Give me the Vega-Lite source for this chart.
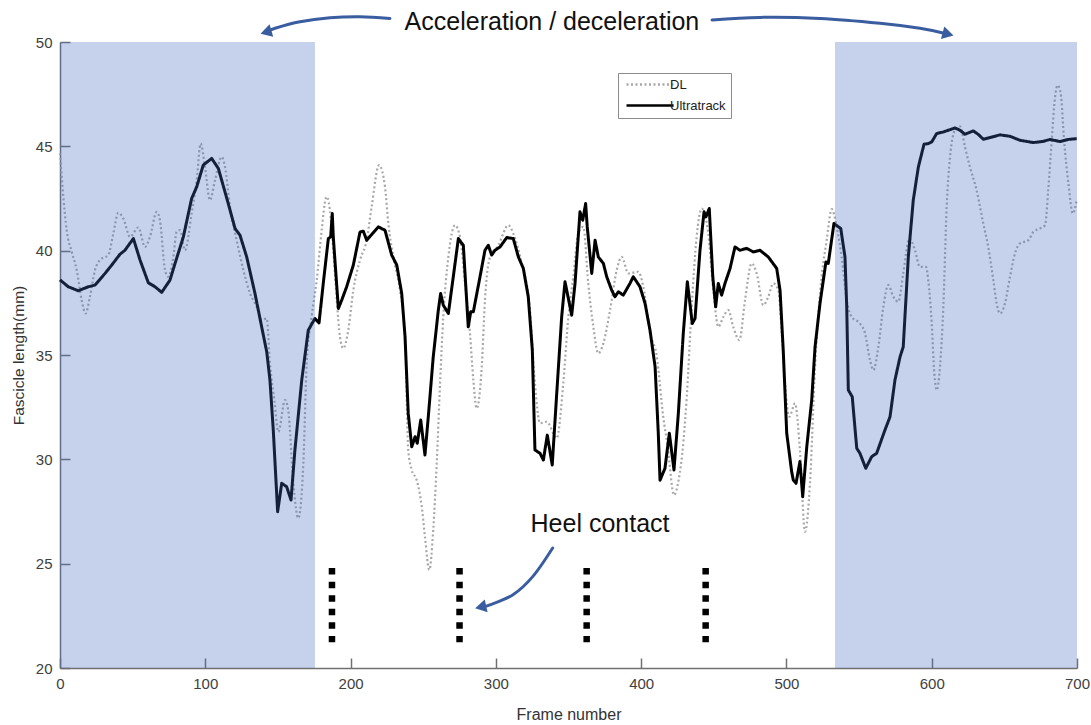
{
  "$schema": "https://vega.github.io/schema/vega-lite/v6.json",
  "width": 1017,
  "height": 626,
  "autosize": {"type": "none"},
  "padding": {"left": 60, "top": 42, "right": 14, "bottom": 57},
  "background": "white",
  "config": {
    "view": {"stroke": null},
    "font": "Liberation Sans",
    "axis": {
      "grid": false,
      "domainColor": "#707070",
      "domainWidth": 1.5,
      "tickColor": "#707070",
      "tickWidth": 1.5,
      "tickSize": -10,
      "labelPadding": 18,
      "labelFlush": false,
      "labelColor": "#404040",
      "labelFontSize": 15,
      "labelFont": "Liberation Sans",
      "titleFont": "Liberation Sans",
      "titleColor": "#333333",
      "titleFontWeight": "normal",
      "titleFontSize": 16
    }
  },
  "datasets": {
    "lines": [
      {"series": "Ultratrack", "frame": 0, "length": 38.6},
      {"series": "Ultratrack", "frame": 5.7, "length": 38.27},
      {"series": "Ultratrack", "frame": 12.6, "length": 38.08},
      {"series": "Ultratrack", "frame": 19.5, "length": 38.27},
      {"series": "Ultratrack", "frame": 24.1, "length": 38.35},
      {"series": "Ultratrack", "frame": 31.0, "length": 38.91},
      {"series": "Ultratrack", "frame": 35.6, "length": 39.31},
      {"series": "Ultratrack", "frame": 41.3, "length": 39.83},
      {"series": "Ultratrack", "frame": 44.7, "length": 40.02},
      {"series": "Ultratrack", "frame": 50.5, "length": 40.58},
      {"series": "Ultratrack", "frame": 55.1, "length": 39.55},
      {"series": "Ultratrack", "frame": 60.8, "length": 38.46},
      {"series": "Ultratrack", "frame": 65.4, "length": 38.27},
      {"series": "Ultratrack", "frame": 70.0, "length": 38.0},
      {"series": "Ultratrack", "frame": 75.7, "length": 38.59},
      {"series": "Ultratrack", "frame": 79.2, "length": 39.39},
      {"series": "Ultratrack", "frame": 84.9, "length": 40.66},
      {"series": "Ultratrack", "frame": 90.6, "length": 42.5},
      {"series": "Ultratrack", "frame": 94.1, "length": 43.06},
      {"series": "Ultratrack", "frame": 98.6, "length": 44.1},
      {"series": "Ultratrack", "frame": 104.4, "length": 44.42},
      {"series": "Ultratrack", "frame": 109.0, "length": 43.94},
      {"series": "Ultratrack", "frame": 115.8, "length": 42.26},
      {"series": "Ultratrack", "frame": 120.5, "length": 41.06},
      {"series": "Ultratrack", "frame": 123.9, "length": 40.74},
      {"series": "Ultratrack", "frame": 128.5, "length": 39.7},
      {"series": "Ultratrack", "frame": 134.2, "length": 37.95},
      {"series": "Ultratrack", "frame": 138.8, "length": 36.35},
      {"series": "Ultratrack", "frame": 142.3, "length": 35.15},
      {"series": "Ultratrack", "frame": 144.5, "length": 33.8},
      {"series": "Ultratrack", "frame": 146.8, "length": 31.4},
      {"series": "Ultratrack", "frame": 149.8, "length": 27.49},
      {"series": "Ultratrack", "frame": 152.6, "length": 28.85},
      {"series": "Ultratrack", "frame": 156.0, "length": 28.69},
      {"series": "Ultratrack", "frame": 159.0, "length": 28.05},
      {"series": "Ultratrack", "frame": 161.7, "length": 30.45},
      {"series": "Ultratrack", "frame": 166.4, "length": 33.8},
      {"series": "Ultratrack", "frame": 170.9, "length": 36.19},
      {"series": "Ultratrack", "frame": 175.5, "length": 36.75},
      {"series": "Ultratrack", "frame": 178.3, "length": 36.54},
      {"series": "Ultratrack", "frame": 181.2, "length": 38.43},
      {"series": "Ultratrack", "frame": 184.7, "length": 40.58},
      {"series": "Ultratrack", "frame": 186.3, "length": 40.66},
      {"series": "Ultratrack", "frame": 187.4, "length": 41.78},
      {"series": "Ultratrack", "frame": 188.1, "length": 40.66},
      {"series": "Ultratrack", "frame": 191.6, "length": 37.23},
      {"series": "Ultratrack", "frame": 193.9, "length": 37.63},
      {"series": "Ultratrack", "frame": 197.3, "length": 38.27},
      {"series": "Ultratrack", "frame": 201.9, "length": 39.31},
      {"series": "Ultratrack", "frame": 206.5, "length": 40.9},
      {"series": "Ultratrack", "frame": 208.8, "length": 40.93},
      {"series": "Ultratrack", "frame": 211.1, "length": 40.5},
      {"series": "Ultratrack", "frame": 213.4, "length": 40.69},
      {"series": "Ultratrack", "frame": 219.1, "length": 41.14},
      {"series": "Ultratrack", "frame": 223.7, "length": 40.98},
      {"series": "Ultratrack", "frame": 228.3, "length": 39.79},
      {"series": "Ultratrack", "frame": 231.8, "length": 39.31},
      {"series": "Ultratrack", "frame": 235.2, "length": 37.95},
      {"series": "Ultratrack", "frame": 237.5, "length": 35.87},
      {"series": "Ultratrack", "frame": 239.7, "length": 32.2},
      {"series": "Ultratrack", "frame": 242.1, "length": 30.6},
      {"series": "Ultratrack", "frame": 244.4, "length": 31.08},
      {"series": "Ultratrack", "frame": 245.9, "length": 30.77},
      {"series": "Ultratrack", "frame": 248.3, "length": 31.88},
      {"series": "Ultratrack", "frame": 251.2, "length": 30.21},
      {"series": "Ultratrack", "frame": 253.5, "length": 32.04},
      {"series": "Ultratrack", "frame": 256.9, "length": 34.91},
      {"series": "Ultratrack", "frame": 260.4, "length": 37.15},
      {"series": "Ultratrack", "frame": 262.0, "length": 37.95},
      {"series": "Ultratrack", "frame": 263.8, "length": 37.39},
      {"series": "Ultratrack", "frame": 267.3, "length": 36.99},
      {"series": "Ultratrack", "frame": 270.7, "length": 38.75},
      {"series": "Ultratrack", "frame": 274.2, "length": 40.58},
      {"series": "Ultratrack", "frame": 275.8, "length": 40.42},
      {"series": "Ultratrack", "frame": 277.6, "length": 40.26},
      {"series": "Ultratrack", "frame": 281.0, "length": 36.35},
      {"series": "Ultratrack", "frame": 282.7, "length": 37.07},
      {"series": "Ultratrack", "frame": 284.5, "length": 37.07},
      {"series": "Ultratrack", "frame": 289.1, "length": 38.75},
      {"series": "Ultratrack", "frame": 292.5, "length": 40.02},
      {"series": "Ultratrack", "frame": 294.8, "length": 40.26},
      {"series": "Ultratrack", "frame": 297.1, "length": 39.79},
      {"series": "Ultratrack", "frame": 299.4, "length": 40.02},
      {"series": "Ultratrack", "frame": 302.9, "length": 40.18},
      {"series": "Ultratrack", "frame": 307.5, "length": 40.63},
      {"series": "Ultratrack", "frame": 312.0, "length": 40.58},
      {"series": "Ultratrack", "frame": 315.5, "length": 39.7},
      {"series": "Ultratrack", "frame": 318.9, "length": 39.15},
      {"series": "Ultratrack", "frame": 322.3, "length": 37.79},
      {"series": "Ultratrack", "frame": 325.1, "length": 35.24},
      {"series": "Ultratrack", "frame": 326.9, "length": 30.45},
      {"series": "Ultratrack", "frame": 330.4, "length": 30.29},
      {"series": "Ultratrack", "frame": 332.7, "length": 29.97},
      {"series": "Ultratrack", "frame": 335.4, "length": 31.16},
      {"series": "Ultratrack", "frame": 338.8, "length": 29.73},
      {"series": "Ultratrack", "frame": 341.9, "length": 33.16},
      {"series": "Ultratrack", "frame": 345.3, "length": 36.83},
      {"series": "Ultratrack", "frame": 347.6, "length": 38.51},
      {"series": "Ultratrack", "frame": 352.2, "length": 36.91},
      {"series": "Ultratrack", "frame": 354.5, "length": 38.43},
      {"series": "Ultratrack", "frame": 357.9, "length": 41.86},
      {"series": "Ultratrack", "frame": 359.8, "length": 41.46},
      {"series": "Ultratrack", "frame": 361.8, "length": 42.26},
      {"series": "Ultratrack", "frame": 362.9, "length": 41.14},
      {"series": "Ultratrack", "frame": 366.0, "length": 38.91},
      {"series": "Ultratrack", "frame": 368.3, "length": 40.5},
      {"series": "Ultratrack", "frame": 370.5, "length": 39.7},
      {"series": "Ultratrack", "frame": 374.0, "length": 39.39},
      {"series": "Ultratrack", "frame": 376.3, "length": 38.75},
      {"series": "Ultratrack", "frame": 379.7, "length": 38.11},
      {"series": "Ultratrack", "frame": 382.0, "length": 37.79},
      {"series": "Ultratrack", "frame": 384.3, "length": 38.03},
      {"series": "Ultratrack", "frame": 387.7, "length": 37.87},
      {"series": "Ultratrack", "frame": 392.3, "length": 38.43},
      {"series": "Ultratrack", "frame": 394.6, "length": 38.75},
      {"series": "Ultratrack", "frame": 399.2, "length": 38.27},
      {"series": "Ultratrack", "frame": 402.7, "length": 37.47},
      {"series": "Ultratrack", "frame": 406.1, "length": 36.19},
      {"series": "Ultratrack", "frame": 409.6, "length": 34.44},
      {"series": "Ultratrack", "frame": 411.8, "length": 31.25},
      {"series": "Ultratrack", "frame": 413.0, "length": 29.0},
      {"series": "Ultratrack", "frame": 416.4, "length": 29.57},
      {"series": "Ultratrack", "frame": 419.4, "length": 31.25},
      {"series": "Ultratrack", "frame": 422.6, "length": 29.49},
      {"series": "Ultratrack", "frame": 425.6, "length": 32.2},
      {"series": "Ultratrack", "frame": 429.0, "length": 36.04},
      {"series": "Ultratrack", "frame": 431.8, "length": 38.51},
      {"series": "Ultratrack", "frame": 435.2, "length": 36.51},
      {"series": "Ultratrack", "frame": 437.1, "length": 36.75},
      {"series": "Ultratrack", "frame": 440.5, "length": 40.02},
      {"series": "Ultratrack", "frame": 443.3, "length": 41.86},
      {"series": "Ultratrack", "frame": 444.6, "length": 41.62},
      {"series": "Ultratrack", "frame": 446.9, "length": 42.02},
      {"series": "Ultratrack", "frame": 449.3, "length": 38.75},
      {"series": "Ultratrack", "frame": 451.3, "length": 37.31},
      {"series": "Ultratrack", "frame": 453.1, "length": 38.43},
      {"series": "Ultratrack", "frame": 455.4, "length": 37.87},
      {"series": "Ultratrack", "frame": 457.7, "length": 38.43},
      {"series": "Ultratrack", "frame": 461.2, "length": 39.15},
      {"series": "Ultratrack", "frame": 464.6, "length": 40.18},
      {"series": "Ultratrack", "frame": 468.0, "length": 40.02},
      {"series": "Ultratrack", "frame": 472.7, "length": 40.11},
      {"series": "Ultratrack", "frame": 477.2, "length": 39.94},
      {"series": "Ultratrack", "frame": 481.8, "length": 40.02},
      {"series": "Ultratrack", "frame": 487.5, "length": 39.7},
      {"series": "Ultratrack", "frame": 493.3, "length": 39.15},
      {"series": "Ultratrack", "frame": 495.6, "length": 38.11},
      {"series": "Ultratrack", "frame": 497.8, "length": 35.24},
      {"series": "Ultratrack", "frame": 500.2, "length": 31.25},
      {"series": "Ultratrack", "frame": 503.6, "length": 29.41},
      {"series": "Ultratrack", "frame": 504.7, "length": 29.01},
      {"series": "Ultratrack", "frame": 506.6, "length": 28.85},
      {"series": "Ultratrack", "frame": 509.3, "length": 29.89},
      {"series": "Ultratrack", "frame": 511.2, "length": 28.21},
      {"series": "Ultratrack", "frame": 514.0, "length": 30.6},
      {"series": "Ultratrack", "frame": 517.4, "length": 32.84},
      {"series": "Ultratrack", "frame": 519.7, "length": 35.39},
      {"series": "Ultratrack", "frame": 523.1, "length": 37.47},
      {"series": "Ultratrack", "frame": 527.2, "length": 39.46},
      {"series": "Ultratrack", "frame": 528.8, "length": 39.39},
      {"series": "Ultratrack", "frame": 532.7, "length": 41.3},
      {"series": "Ultratrack", "frame": 537.4, "length": 41.06},
      {"series": "Ultratrack", "frame": 540.3, "length": 39.7},
      {"series": "Ultratrack", "frame": 541.5, "length": 37.31},
      {"series": "Ultratrack", "frame": 542.6, "length": 33.32},
      {"series": "Ultratrack", "frame": 545.3, "length": 33.0},
      {"series": "Ultratrack", "frame": 548.4, "length": 30.53},
      {"series": "Ultratrack", "frame": 550.6, "length": 30.29},
      {"series": "Ultratrack", "frame": 554.6, "length": 29.57},
      {"series": "Ultratrack", "frame": 558.7, "length": 30.13},
      {"series": "Ultratrack", "frame": 562.1, "length": 30.29},
      {"series": "Ultratrack", "frame": 567.8, "length": 31.4},
      {"series": "Ultratrack", "frame": 571.3, "length": 32.04},
      {"series": "Ultratrack", "frame": 574.7, "length": 33.8},
      {"series": "Ultratrack", "frame": 578.2, "length": 34.91},
      {"series": "Ultratrack", "frame": 580.4, "length": 35.39},
      {"series": "Ultratrack", "frame": 583.9, "length": 39.7},
      {"series": "Ultratrack", "frame": 587.3, "length": 42.42},
      {"series": "Ultratrack", "frame": 590.8, "length": 44.01},
      {"series": "Ultratrack", "frame": 594.7, "length": 45.1},
      {"series": "Ultratrack", "frame": 597.6, "length": 45.13},
      {"series": "Ultratrack", "frame": 600.0, "length": 45.21},
      {"series": "Ultratrack", "frame": 603.4, "length": 45.61},
      {"series": "Ultratrack", "frame": 608.0, "length": 45.69},
      {"series": "Ultratrack", "frame": 611.4, "length": 45.77},
      {"series": "Ultratrack", "frame": 616.0, "length": 45.88},
      {"series": "Ultratrack", "frame": 619.5, "length": 45.77},
      {"series": "Ultratrack", "frame": 622.9, "length": 45.58},
      {"series": "Ultratrack", "frame": 628.6, "length": 45.74},
      {"series": "Ultratrack", "frame": 632.1, "length": 45.57},
      {"series": "Ultratrack", "frame": 635.5, "length": 45.34},
      {"series": "Ultratrack", "frame": 640.1, "length": 45.42},
      {"series": "Ultratrack", "frame": 647.0, "length": 45.55},
      {"series": "Ultratrack", "frame": 653.9, "length": 45.48},
      {"series": "Ultratrack", "frame": 660.8, "length": 45.29},
      {"series": "Ultratrack", "frame": 669.9, "length": 45.18},
      {"series": "Ultratrack", "frame": 676.8, "length": 45.24},
      {"series": "Ultratrack", "frame": 681.4, "length": 45.33},
      {"series": "Ultratrack", "frame": 688.3, "length": 45.23},
      {"series": "Ultratrack", "frame": 694.0, "length": 45.33},
      {"series": "Ultratrack", "frame": 699.8, "length": 45.37},
      {"series": "DL", "frame": 0, "length": 44.66},
      {"series": "DL", "frame": 2.3, "length": 42.58},
      {"series": "DL", "frame": 4.6, "length": 40.98},
      {"series": "DL", "frame": 8.1, "length": 39.94},
      {"series": "DL", "frame": 11.5, "length": 39.07},
      {"series": "DL", "frame": 14.9, "length": 37.63},
      {"series": "DL", "frame": 17.7, "length": 36.99},
      {"series": "DL", "frame": 20.6, "length": 37.79},
      {"series": "DL", "frame": 24.1, "length": 39.07},
      {"series": "DL", "frame": 27.5, "length": 39.55},
      {"series": "DL", "frame": 33.2, "length": 39.79},
      {"series": "DL", "frame": 36.7, "length": 40.82},
      {"series": "DL", "frame": 40.1, "length": 41.81},
      {"series": "DL", "frame": 43.6, "length": 41.54},
      {"series": "DL", "frame": 48.2, "length": 40.66},
      {"series": "DL", "frame": 53.9, "length": 41.11},
      {"series": "DL", "frame": 58.5, "length": 40.18},
      {"series": "DL", "frame": 61.9, "length": 40.66},
      {"series": "DL", "frame": 66.6, "length": 41.86},
      {"series": "DL", "frame": 68.8, "length": 41.46},
      {"series": "DL", "frame": 72.3, "length": 39.07},
      {"series": "DL", "frame": 74.5, "length": 38.75},
      {"series": "DL", "frame": 78.0, "length": 39.7},
      {"series": "DL", "frame": 80.3, "length": 40.9},
      {"series": "DL", "frame": 82.6, "length": 40.98},
      {"series": "DL", "frame": 86.0, "length": 40.02},
      {"series": "DL", "frame": 90.6, "length": 41.78},
      {"series": "DL", "frame": 94.1, "length": 43.38},
      {"series": "DL", "frame": 96.8, "length": 45.13},
      {"series": "DL", "frame": 99.8, "length": 44.01},
      {"series": "DL", "frame": 103.2, "length": 42.42},
      {"series": "DL", "frame": 106.7, "length": 43.38},
      {"series": "DL", "frame": 111.3, "length": 44.49},
      {"series": "DL", "frame": 113.6, "length": 44.01},
      {"series": "DL", "frame": 117.0, "length": 42.1},
      {"series": "DL", "frame": 121.6, "length": 40.5},
      {"series": "DL", "frame": 126.2, "length": 39.07},
      {"series": "DL", "frame": 130.8, "length": 37.95},
      {"series": "DL", "frame": 135.4, "length": 37.31},
      {"series": "DL", "frame": 138.8, "length": 36.67},
      {"series": "DL", "frame": 142.3, "length": 36.75},
      {"series": "DL", "frame": 144.5, "length": 34.6},
      {"series": "DL", "frame": 147.5, "length": 32.84},
      {"series": "DL", "frame": 150.3, "length": 31.32},
      {"series": "DL", "frame": 154.9, "length": 32.84},
      {"series": "DL", "frame": 157.1, "length": 32.36},
      {"series": "DL", "frame": 160.6, "length": 28.85},
      {"series": "DL", "frame": 164.0, "length": 27.18},
      {"series": "DL", "frame": 167.5, "length": 29.81},
      {"series": "DL", "frame": 169.8, "length": 34.6},
      {"series": "DL", "frame": 173.2, "length": 36.83},
      {"series": "DL", "frame": 176.7, "length": 38.59},
      {"series": "DL", "frame": 180.1, "length": 40.98},
      {"series": "DL", "frame": 182.9, "length": 42.5},
      {"series": "DL", "frame": 183.6, "length": 42.58},
      {"series": "DL", "frame": 186.3, "length": 41.62},
      {"series": "DL", "frame": 188.1, "length": 40.02},
      {"series": "DL", "frame": 190.5, "length": 37.63},
      {"series": "DL", "frame": 192.7, "length": 35.87},
      {"series": "DL", "frame": 195.0, "length": 35.32},
      {"series": "DL", "frame": 198.4, "length": 36.19},
      {"series": "DL", "frame": 201.9, "length": 38.11},
      {"series": "DL", "frame": 206.5, "length": 39.55},
      {"series": "DL", "frame": 211.1, "length": 40.5},
      {"series": "DL", "frame": 214.5, "length": 42.1},
      {"series": "DL", "frame": 219.6, "length": 44.1},
      {"series": "DL", "frame": 223.7, "length": 43.06},
      {"series": "DL", "frame": 226.0, "length": 41.3},
      {"series": "DL", "frame": 229.4, "length": 39.7},
      {"series": "DL", "frame": 234.0, "length": 38.11},
      {"series": "DL", "frame": 237.5, "length": 35.87},
      {"series": "DL", "frame": 239.7, "length": 30.45},
      {"series": "DL", "frame": 242.1, "length": 29.49},
      {"series": "DL", "frame": 245.5, "length": 29.01},
      {"series": "DL", "frame": 249.0, "length": 27.73},
      {"series": "DL", "frame": 251.2, "length": 26.29},
      {"series": "DL", "frame": 254.2, "length": 24.7},
      {"series": "DL", "frame": 256.9, "length": 26.62},
      {"series": "DL", "frame": 259.3, "length": 29.81},
      {"series": "DL", "frame": 261.6, "length": 33.64},
      {"series": "DL", "frame": 263.8, "length": 36.83},
      {"series": "DL", "frame": 267.3, "length": 39.7},
      {"series": "DL", "frame": 271.9, "length": 41.22},
      {"series": "DL", "frame": 275.3, "length": 40.66},
      {"series": "DL", "frame": 278.8, "length": 38.43},
      {"series": "DL", "frame": 282.2, "length": 36.04},
      {"series": "DL", "frame": 284.5, "length": 33.8},
      {"series": "DL", "frame": 286.8, "length": 32.44},
      {"series": "DL", "frame": 290.3, "length": 34.44},
      {"series": "DL", "frame": 292.5, "length": 37.63},
      {"series": "DL", "frame": 296.0, "length": 39.7},
      {"series": "DL", "frame": 301.7, "length": 40.26},
      {"series": "DL", "frame": 308.6, "length": 41.22},
      {"series": "DL", "frame": 312.0, "length": 40.82},
      {"series": "DL", "frame": 317.8, "length": 39.39},
      {"series": "DL", "frame": 323.5, "length": 37.15},
      {"series": "DL", "frame": 326.9, "length": 33.64},
      {"series": "DL", "frame": 330.4, "length": 31.73},
      {"series": "DL", "frame": 335.0, "length": 31.8},
      {"series": "DL", "frame": 341.9, "length": 31.02},
      {"series": "DL", "frame": 346.4, "length": 33.64},
      {"series": "DL", "frame": 349.9, "length": 36.83},
      {"series": "DL", "frame": 353.3, "length": 38.75},
      {"series": "DL", "frame": 356.7, "length": 40.82},
      {"series": "DL", "frame": 360.2, "length": 41.14},
      {"series": "DL", "frame": 363.6, "length": 38.43},
      {"series": "DL", "frame": 367.1, "length": 36.35},
      {"series": "DL", "frame": 370.5, "length": 35.08},
      {"series": "DL", "frame": 374.0, "length": 35.56},
      {"series": "DL", "frame": 378.6, "length": 37.15},
      {"series": "DL", "frame": 383.2, "length": 39.07},
      {"series": "DL", "frame": 386.6, "length": 39.7},
      {"series": "DL", "frame": 391.2, "length": 38.91},
      {"series": "DL", "frame": 398.0, "length": 38.99},
      {"series": "DL", "frame": 401.5, "length": 38.27},
      {"series": "DL", "frame": 406.1, "length": 36.04},
      {"series": "DL", "frame": 410.7, "length": 34.96},
      {"series": "DL", "frame": 415.2, "length": 32.04},
      {"series": "DL", "frame": 418.3, "length": 30.6},
      {"series": "DL", "frame": 422.6, "length": 28.29},
      {"series": "DL", "frame": 425.8, "length": 29.01},
      {"series": "DL", "frame": 429.2, "length": 30.93},
      {"series": "DL", "frame": 431.4, "length": 33.0},
      {"series": "DL", "frame": 434.8, "length": 37.31},
      {"series": "DL", "frame": 438.2, "length": 40.66},
      {"series": "DL", "frame": 441.7, "length": 42.02},
      {"series": "DL", "frame": 446.2, "length": 40.82},
      {"series": "DL", "frame": 449.7, "length": 38.11},
      {"series": "DL", "frame": 453.1, "length": 36.35},
      {"series": "DL", "frame": 456.6, "length": 36.83},
      {"series": "DL", "frame": 460.0, "length": 37.15},
      {"series": "DL", "frame": 463.4, "length": 36.35},
      {"series": "DL", "frame": 467.6, "length": 35.71},
      {"series": "DL", "frame": 471.5, "length": 37.63},
      {"series": "DL", "frame": 476.1, "length": 39.39},
      {"series": "DL", "frame": 479.5, "length": 38.91},
      {"series": "DL", "frame": 484.1, "length": 37.39},
      {"series": "DL", "frame": 487.5, "length": 37.79},
      {"series": "DL", "frame": 491.0, "length": 38.43},
      {"series": "DL", "frame": 494.4, "length": 38.11},
      {"series": "DL", "frame": 496.8, "length": 36.04},
      {"series": "DL", "frame": 499.0, "length": 33.64},
      {"series": "DL", "frame": 502.0, "length": 32.04},
      {"series": "DL", "frame": 505.9, "length": 32.68},
      {"series": "DL", "frame": 509.3, "length": 30.45},
      {"series": "DL", "frame": 512.8, "length": 26.53},
      {"series": "DL", "frame": 516.2, "length": 28.85},
      {"series": "DL", "frame": 519.7, "length": 34.44},
      {"series": "DL", "frame": 523.1, "length": 37.95},
      {"series": "DL", "frame": 527.7, "length": 40.5},
      {"series": "DL", "frame": 531.2, "length": 41.99},
      {"series": "DL", "frame": 534.6, "length": 41.14},
      {"series": "DL", "frame": 538.0, "length": 39.7},
      {"series": "DL", "frame": 541.5, "length": 37.63},
      {"series": "DL", "frame": 544.9, "length": 36.83},
      {"series": "DL", "frame": 550.6, "length": 36.51},
      {"series": "DL", "frame": 554.1, "length": 36.04},
      {"series": "DL", "frame": 557.5, "length": 34.76},
      {"series": "DL", "frame": 559.8, "length": 34.28},
      {"series": "DL", "frame": 563.3, "length": 35.39},
      {"series": "DL", "frame": 566.7, "length": 37.31},
      {"series": "DL", "frame": 570.1, "length": 38.35},
      {"series": "DL", "frame": 573.6, "length": 37.79},
      {"series": "DL", "frame": 577.0, "length": 37.55},
      {"series": "DL", "frame": 580.4, "length": 38.91},
      {"series": "DL", "frame": 584.6, "length": 40.58},
      {"series": "DL", "frame": 588.5, "length": 40.02},
      {"series": "DL", "frame": 591.9, "length": 39.22},
      {"series": "DL", "frame": 596.1, "length": 39.22},
      {"series": "DL", "frame": 597.6, "length": 38.59},
      {"series": "DL", "frame": 600.0, "length": 36.51},
      {"series": "DL", "frame": 601.8, "length": 34.12},
      {"series": "DL", "frame": 603.4, "length": 33.32},
      {"series": "DL", "frame": 605.7, "length": 34.44},
      {"series": "DL", "frame": 608.0, "length": 37.31},
      {"series": "DL", "frame": 610.3, "length": 42.1},
      {"series": "DL", "frame": 612.6, "length": 44.49},
      {"series": "DL", "frame": 616.0, "length": 45.77},
      {"series": "DL", "frame": 619.5, "length": 45.96},
      {"series": "DL", "frame": 622.9, "length": 44.97},
      {"series": "DL", "frame": 626.3, "length": 44.01},
      {"series": "DL", "frame": 630.9, "length": 42.9},
      {"series": "DL", "frame": 635.5, "length": 41.3},
      {"series": "DL", "frame": 638.9, "length": 40.18},
      {"series": "DL", "frame": 642.4, "length": 38.59},
      {"series": "DL", "frame": 644.7, "length": 37.47},
      {"series": "DL", "frame": 647.0, "length": 36.99},
      {"series": "DL", "frame": 650.4, "length": 37.47},
      {"series": "DL", "frame": 653.9, "length": 38.75},
      {"series": "DL", "frame": 657.3, "length": 39.87},
      {"series": "DL", "frame": 660.8, "length": 40.35},
      {"series": "DL", "frame": 666.5, "length": 40.5},
      {"series": "DL", "frame": 669.9, "length": 40.9},
      {"series": "DL", "frame": 674.5, "length": 41.06},
      {"series": "DL", "frame": 678.0, "length": 41.22},
      {"series": "DL", "frame": 680.2, "length": 42.9},
      {"series": "DL", "frame": 682.6, "length": 45.29},
      {"series": "DL", "frame": 684.9, "length": 47.37},
      {"series": "DL", "frame": 686.7, "length": 47.93},
      {"series": "DL", "frame": 688.8, "length": 47.53},
      {"series": "DL", "frame": 691.1, "length": 45.29},
      {"series": "DL", "frame": 694.1, "length": 43.22},
      {"series": "DL", "frame": 697.1, "length": 41.78},
      {"series": "DL", "frame": 699.8, "length": 42.42}
    ],
    "arrows": [
      {"arrow": "left", "i": 0, "frame": 227.1, "length": 51.13},
      {"arrow": "left", "i": 1, "frame": 206.5, "length": 51.21},
      {"arrow": "left", "i": 2, "frame": 185.8, "length": 51.16},
      {"arrow": "left", "i": 3, "frame": 165.2, "length": 50.97},
      {"arrow": "left", "i": 4, "frame": 148.0, "length": 50.66},
      {"arrow": "left", "i": 5, "frame": 144.0, "length": 50.52},
      {"arrow": "right", "i": 0, "frame": 448.8, "length": 51.06},
      {"arrow": "right", "i": 1, "frame": 481.8, "length": 51.18},
      {"arrow": "right", "i": 2, "frame": 523.1, "length": 51.13},
      {"arrow": "right", "i": 3, "frame": 564.4, "length": 50.9},
      {"arrow": "right", "i": 4, "frame": 591.9, "length": 50.66},
      {"arrow": "right", "i": 5, "frame": 608.5, "length": 50.42},
      {"arrow": "heel", "i": 0, "frame": 339.1, "length": 25.75},
      {"arrow": "heel", "i": 1, "frame": 325.5, "length": 24.39},
      {"arrow": "heel", "i": 2, "frame": 311.8, "length": 23.51},
      {"arrow": "heel", "i": 3, "frame": 295.9, "length": 23.03},
      {"arrow": "heel", "i": 4, "frame": 291.8, "length": 22.96}
    ]
  },
  "encoding": {
    "x": {
      "field": "frame",
      "type": "quantitative",
      "scale": {"domain": [0, 700], "nice": false, "zero": false},
      "axis": {"title": "Frame number", "values": [0, 100, 200, 300, 400, 500, 600, 700], "titlePadding": 15}
    },
    "y": {
      "field": "length",
      "type": "quantitative",
      "scale": {"domain": [20, 50], "nice": false, "zero": false},
      "axis": {"title": "Fascicle length(mm)", "values": [20, 25, 30, 35, 40, 45, 50], "titlePadding": 9, "titleFontSize": 15.5}
    }
  },
  "layer": [
    {
      "data": {"name": "lines"},
      "transform": [{"filter": "datum.series === 'DL'"}],
      "mark": {"type": "line", "interpolate": "monotone", "strokeWidth": 2.2, "strokeCap": "butt"},
      "encoding": {
        "color": {
          "field": "series", "type": "nominal",
          "scale": {"domain": ["DL", "Ultratrack"], "range": ["#a8a8a8", "#000000"]},
          "legend": {"title": null, "orient": "none", "legendX": 558, "legendY": 31, "padding": 5, "rowPadding": 7, "strokeColor": "#8c8c8c", "fillColor": "white", "labelFont": "Liberation Sans", "labelFontSize": 13, "labelColor": "#222222", "symbolType": "M-1,0H14.7", "symbolSize": 36, "symbolStrokeWidth": 2.5, "labelOffset": 34}
        },
        "strokeDash": {
          "field": "series", "type": "nominal",
          "scale": {"domain": ["DL", "Ultratrack"], "range": [[2, 2.5], [1, 0]]},
          "legend": {"title": null, "orient": "none", "legendX": 558, "legendY": 31, "padding": 5, "rowPadding": 7, "strokeColor": "#8c8c8c", "fillColor": "white", "labelFont": "Liberation Sans", "labelFontSize": 13, "labelColor": "#222222", "symbolType": "M-1,0H14.7", "symbolSize": 36, "symbolStrokeWidth": 2.5, "labelOffset": 34}
        }
      }
    },
    {
      "data": {"name": "lines"},
      "transform": [{"filter": "datum.series === 'Ultratrack'"}],
      "mark": {"type": "line", "interpolate": "linear", "strokeWidth": 3, "strokeJoin": "round"},
      "encoding": {
        "color": {"field": "series", "type": "nominal"},
        "strokeDash": {"field": "series", "type": "nominal"}
      }
    },
    {
      "data": {"values": [{"start": 0, "end": 175.5, "top": 50, "bottom": 20}, {"start": 533.4, "end": 700, "top": 50, "bottom": 20}]},
      "mark": {"type": "rect", "fill": "#436bc1", "fillOpacity": 0.3, "strokeWidth": 0},
      "encoding": {
        "x": {"field": "start", "type": "quantitative"},
        "x2": {"field": "end"},
        "y": {"field": "top", "type": "quantitative"},
        "y2": {"field": "bottom"}
      }
    },
    {
      "data": {"values": [{"frame": 187.2, "top": 24.79, "bottom": 21.23}, {"frame": 275, "top": 24.79, "bottom": 21.23}, {"frame": 362.5, "top": 24.79, "bottom": 21.23}, {"frame": 444.4, "top": 24.79, "bottom": 21.23}]},
      "mark": {"type": "rule", "color": "#000000", "strokeWidth": 6.5, "strokeDash": [6.5, 7.08], "strokeCap": "butt"},
      "encoding": {
        "x": {"field": "frame", "type": "quantitative"},
        "y": {"field": "top", "type": "quantitative"},
        "y2": {"field": "bottom"}
      }
    },
    {
      "data": {"name": "arrows"},
      "mark": {"type": "line", "interpolate": "cardinal", "color": "#3a5da0", "strokeWidth": 3, "strokeCap": "round"},
      "encoding": {
        "detail": {"field": "arrow"},
        "order": {"field": "i"}
      }
    },
    {
      "data": {"values": [{"frame": 143.0, "length": 50.5}]},
      "mark": {"type": "point", "shape": "triangle", "filled": true, "size": 170, "color": "#3a5da0", "opacity": 1, "angle": 254}
    },
    {
      "data": {"values": [{"frame": 610.0, "length": 50.4}]},
      "mark": {"type": "point", "shape": "triangle", "filled": true, "size": 170, "color": "#3a5da0", "opacity": 1, "angle": 105}
    },
    {
      "data": {"values": [{"frame": 290.8, "length": 22.94}]},
      "mark": {"type": "point", "shape": "triangle", "filled": true, "size": 170, "color": "#3a5da0", "opacity": 1, "angle": 257}
    },
    {
      "data": {"values": [{"label": "Acceleration / deceleration", "frame": 338.6, "length": 50.97}, {"label": "Heel contact", "frame": 371.7, "length": 26.91}]},
      "mark": {"type": "text", "fontSize": 25, "font": "Liberation Sans", "color": "#111111", "baseline": "middle", "align": "center"},
      "encoding": {"text": {"field": "label"}}
    }
  ]
}
